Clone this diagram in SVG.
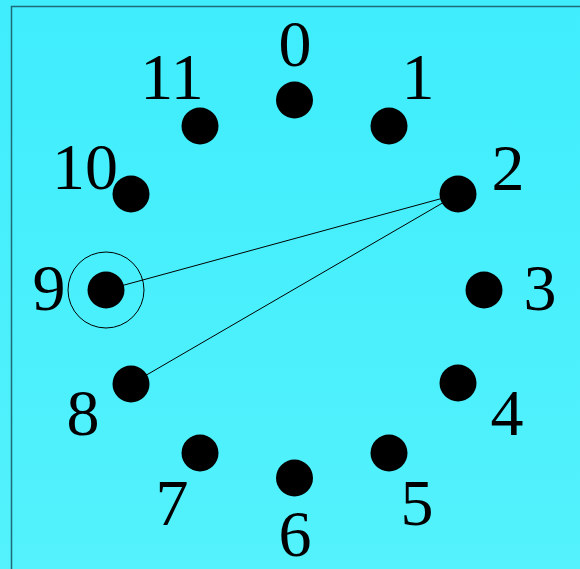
<svg xmlns="http://www.w3.org/2000/svg" width="580" height="569" viewBox="0 0 580 569">
<defs>
<linearGradient id="bg" x1="0" y1="0" x2="0" y2="1">
<stop offset="0" stop-color="#3FEDFC"/>
<stop offset="1" stop-color="#53F2FC"/>
</linearGradient>
<style>
.dot{fill:#000}
.lbl{font-family:"Liberation Serif","Times New Roman",serif;font-size:66px;fill:#000;text-anchor:middle}
.edge{stroke:#000;stroke-width:1;fill:none}
</style>
</defs>
<rect x="0" y="0" width="580" height="569" fill="url(#bg)"/>
<rect x="11.5" y="6.5" width="600" height="600" fill="none" stroke="#1d6b78" stroke-width="1.5"/>
<g id="connectors">
<line class="edge" x1="458" y1="194" x2="106" y2="290"/>
<line class="edge" x1="458" y1="194" x2="131" y2="384"/>
</g>
<g id="n0"><circle class="dot" cx="294.5" cy="100" r="18.5"/><text class="lbl" x="295" y="66">0</text></g>
<g id="n1"><circle class="dot" cx="389" cy="126" r="18.5"/><text class="lbl" x="418" y="99">1</text></g>
<g id="n2"><circle class="dot" cx="458" cy="194" r="18.5"/><text class="lbl" x="508" y="190">2</text></g>
<g id="n3"><circle class="dot" cx="484" cy="290" r="18.5"/><text class="lbl" x="540" y="310">3</text></g>
<g id="n4"><circle class="dot" cx="458" cy="383" r="18.5"/><text class="lbl" x="507" y="435">4</text></g>
<g id="n5"><circle class="dot" cx="389" cy="453" r="18.5"/><text class="lbl" x="417" y="525">5</text></g>
<g id="n6"><circle class="dot" cx="294.5" cy="478" r="18.5"/><text class="lbl" x="295" y="556">6</text></g>
<g id="n7"><circle class="dot" cx="200" cy="453" r="18.5"/><text class="lbl" x="172" y="525">7</text></g>
<g id="n8"><circle class="dot" cx="131" cy="384" r="18.5"/><text class="lbl" x="83" y="435">8</text></g>
<g id="n9"><circle class="dot" cx="106" cy="290" r="18.5"/><circle cx="106" cy="290" r="38" fill="none" stroke="#000" stroke-width="1"/><text class="lbl" x="49" y="310">9</text></g>
<g id="n10"><circle class="dot" cx="131" cy="194" r="18.5"/><text class="lbl" x="85" y="189">10</text></g>
<g id="n11"><circle class="dot" cx="200" cy="126" r="18.5"/><text class="lbl" x="172" y="99">11</text></g>
</svg>
